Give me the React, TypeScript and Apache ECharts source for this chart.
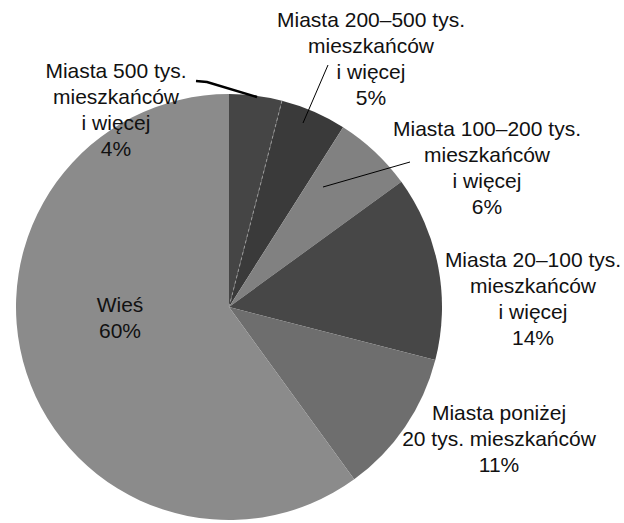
import React, { useEffect, useRef } from "react";
import * as echarts from "echarts";

const categories = [
  "Miasta 500 tys.\nmieszkańców\ni więcej",
  "Miasta 200–500 tys.\nmieszkańców\ni więcej",
  "Miasta 100–200 tys.\nmieszkańców\ni więcej",
  "Miasta 20–100 tys.\nmieszkańców\ni więcej",
  "Miasta poniżej\n20 tys. mieszkańców",
  "Wieś",
];
const values = [4, 5, 6, 14, 11, 60];
const colors = ["#454545", "#3a3a3a", "#818181", "#474747", "#6e6e6e", "#8b8b8b"];

// label layout (styling only)
const CX = 229;
const CY = 307;
const R = 213;
const labelCenters = [
  [116, 109],
  [371, 58],
  [487, 167],
  [533, 298],
  [499, 438],
  [120, 317],
];
const leaderLines: (number[][] | null)[] = [
  [[257, 97], [207, 82], [196, 81]],
  [[303, 123], [328, 65]],
  [[323, 187], [410, 162]],
  null,
  null,
  null,
];

export default function App() {
  const ref = useRef<HTMLDivElement>(null);
  useEffect(() => {
    if (!ref.current) return;
    const chart = echarts.init(ref.current, undefined, { renderer: "svg" });
    const total = values.reduce((a, b) => a + b, 0);
    const ang = (values[0] / total) * 2 * Math.PI; // clockwise from top
    const ex = CX + R * Math.sin(ang);
    const ey = CY - R * Math.cos(ang);
    const graphics: any[] = leaderLines
      .map((pts, i) =>
        pts
          ? {
              type: "polyline",
              z: 100,
              shape: { points: pts },
              style: { stroke: "#000", lineWidth: i === 0 ? 2.5 : 1, fill: "none" },
              silent: true,
            }
          : null
      )
      .filter(Boolean);
    graphics.push({
      type: "line",
      z: 50,
      shape: { x1: CX, y1: CY, x2: ex, y2: ey },
      style: { stroke: "#9c9c9c", lineWidth: 1, lineDash: [3, 3] },
      silent: true,
    });
    chart.setOption({
      animation: false,
      backgroundColor: "#ffffff",
      graphic: graphics,
      series: [
        {
          type: "pie",
          center: [CX, CY],
          radius: R,
          startAngle: 90,
          clockwise: true,
          avoidLabelOverlap: false,
          data: categories.map((name, i) => ({
            name,
            value: values[i],
            itemStyle: { color: colors[i] },
          })),
          label: {
            show: true,
            position: "outside",
            formatter: (p: any) => `${p.name}\n${p.value}%`,
            fontFamily: "Liberation Sans, Arial, sans-serif",
            fontSize: 21,
            lineHeight: 26,
            color: "#111111",
            align: "center",
          },
          labelLine: { show: false },
          labelLayout: (params: any) => {
            const i = params.dataIndex;
            return {
              x: labelCenters[i][0],
              y: labelCenters[i][1],
              align: "center",
              verticalAlign: "middle",
            };
          },
          emphasis: { disabled: true },
        },
      ],
    });
    return () => chart.dispose();
  }, []);
  return (
    <div
      ref={ref}
      style={{ position: "fixed", left: 0, top: 0, width: 624, height: 523 }}
    />
  );
}
